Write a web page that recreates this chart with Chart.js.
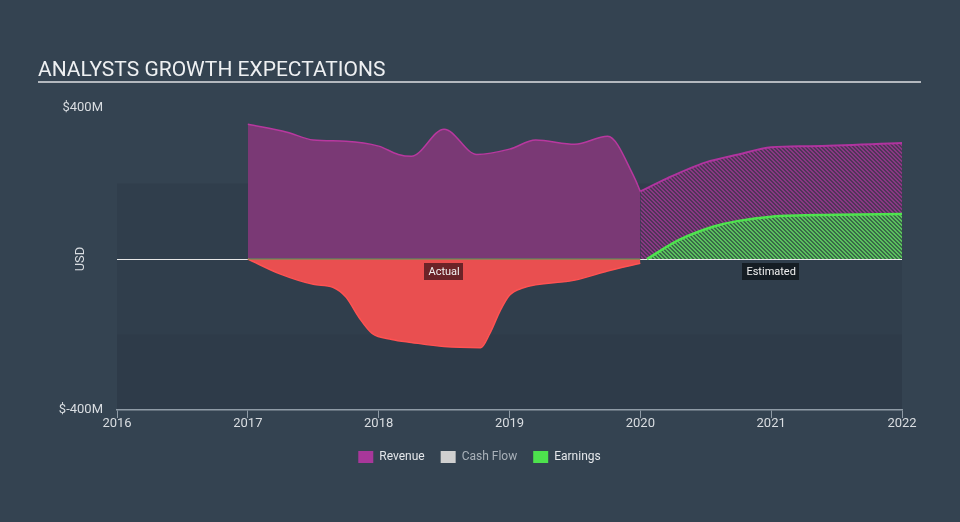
<!DOCTYPE html>
<html>
<head>
<meta charset="utf-8">
<script src="https://cdn.jsdelivr.net/npm/chart.js@4.4.1/dist/chart.umd.min.js"></script>
<style>
  html, body { margin: 0; padding: 0; background: #344351; }
  #wrap { width: 960px; height: 522px; position: relative; }
</style>
</head>
<body>
<div id="wrap"><canvas id="c"></canvas></div>
<script>
// ---- Data (years as decimal, values in $M) ----
const revenueActualYears = [2017.0, 2017.3, 2017.5, 2017.75, 2018.0, 2018.15, 2018.25, 2018.5, 2018.75, 2019.0, 2019.2, 2019.5, 2019.75, 2019.95, 2020.0];
const revenueActualValues = [357, 336, 315, 312, 299, 277, 272, 344, 277, 291, 315, 304, 325, 219, 179];

const revenueEstYears = [2020.0, 2020.2, 2020.5, 2020.75, 2021.0, 2021.3, 2022.0];
const revenueEstValues = [179, 213, 256, 277, 296, 299, 307];

const earningsActualYears = [2017.0, 2017.25, 2017.5, 2017.65, 2017.75, 2017.85, 2017.95, 2018.1, 2018.25, 2018.5, 2018.78, 2018.85, 2018.93, 2019.0, 2019.1, 2019.5, 2019.75, 2020.0];
const earningsActualValues = [0, -40, -67, -75, -101, -155, -197, -213, -221, -232, -235, -197, -136, -96, -77, -56, -32, -11];

const earningsEstYears = [2020.05, 2020.3, 2020.56, 2020.75, 2021.0, 2021.5, 2022.0];
const earningsEstValues = [0, 51, 86, 101, 112, 117, 119];

const zeroLineYears = [2017.0, 2020.0];
const zeroLineValues = [0, 0];

const legendNames = ['Revenue', 'Cash Flow', 'Earnings'];
const legendColors = ['#a8379a', '#d0d0d0', '#4de24d'];
const legendTextColors = ['#e4e7ea', '#a9b1b9', '#e4e7ea'];

const xMin = 2016, xMax = 2022;
const yMin = -400, yMax = 400;

function pts(xs, ys) { return xs.map((x, i) => ({ x: x, y: ys[i] })); }

function makePattern(bg, fg) {
  const c = document.createElement('canvas');
  c.width = 4; c.height = 4;
  const g = c.getContext('2d');
  g.fillStyle = bg; g.fillRect(0, 0, 4, 4);
  g.fillStyle = fg;
  for (let i = 0; i < 4; i++) {
    g.fillRect(i, i, 1, 1);
    g.fillRect((i + 1) % 4, i, 1, 1);
  }
  return g.createPattern(c, 'repeat');
}
const revPattern = makePattern('#4f3558', '#8a3784');
const earnPattern = makePattern('#3a6a48', '#5ac15d');

const bgPlugin = {
  id: 'bgPlugin',
  beforeDraw(chart) {
    const ctx = chart.ctx;
    const { x, y } = chart.scales;
    ctx.save();
    ctx.fillStyle = '#344351';
    ctx.fillRect(0, 0, chart.width, chart.height);
    const l = x.getPixelForValue(xMin), r = x.getPixelForValue(xMax);
    const t = y.getPixelForValue(200), m = y.getPixelForValue(-200), b = y.getPixelForValue(-400);
    ctx.fillStyle = '#303e4c';
    ctx.fillRect(l, t, r - l, b - t);
    ctx.fillStyle = '#2e3b49';
    ctx.fillRect(l, m, r - l, b - m);
    // title
    ctx.fillStyle = '#eef0f2';
    ctx.font = '21px Roboto';
    ctx.textBaseline = 'alphabetic';
    ctx.textAlign = 'left';
    ctx.fillText('ANALYSTS GROWTH EXPECTATIONS', 38, 76);
    ctx.fillStyle = '#b3b8be';
    ctx.fillRect(38, 81, 883, 2);
    ctx.restore();
  },
  afterDatasetsDraw(chart) {
    const ctx = chart.ctx;
    const { x, y } = chart.scales;
    const y0 = y.getPixelForValue(0);
    function tag(text, cx, bg) {
      ctx.save();
      ctx.font = '11px Roboto';
      const w = ctx.measureText(text).width + 8;
      ctx.fillStyle = bg;
      ctx.fillRect(Math.round(cx - w / 2), y0 + 4, Math.round(w), 17);
      ctx.fillStyle = '#f0f0f0';
      ctx.textAlign = 'center';
      ctx.textBaseline = 'middle';
      ctx.fillText(text, cx, y0 + 13);
      ctx.restore();
    }
    tag('Actual', x.getPixelForValue(2018.5), '#6b2328');
    tag('Estimated', x.getPixelForValue(2021.0), '#151d24');
  }
};

const chart = new Chart(document.getElementById('c'), {
  type: 'line',
  data: {
    datasets: [
      { label: 'Revenue', data: pts(revenueActualYears, revenueActualValues), borderColor: '#b8389f', borderWidth: 1.5, backgroundColor: '#7a3975', fill: 'origin', order: 5 },
      { label: 'Revenue est', data: pts(revenueEstYears, revenueEstValues), borderColor: '#b0349f', borderWidth: 2, backgroundColor: revPattern, fill: 'origin', order: 4 },
      { label: 'Earnings', data: pts(earningsActualYears, earningsActualValues), borderColor: '#ff5252', borderWidth: 1.5, backgroundColor: '#e94f50', fill: 'origin', order: 3 },
      { label: 'Earnings est', data: pts(earningsEstYears, earningsEstValues), borderColor: '#4ee34e', borderWidth: 2.5, backgroundColor: earnPattern, fill: 'origin', order: 2 },
      { label: 'zero', data: pts(zeroLineYears, zeroLineValues), borderColor: '#5a9f55', borderWidth: 1, fill: false, order: 1 }
    ]
  },
  options: {
    responsive: true,
    maintainAspectRatio: false,
    animation: false,
    devicePixelRatio: 1,
    layout: { padding: { top: 108, left: 57, right: 58, bottom: 49 } },
    elements: { point: { radius: 0, hoverRadius: 0 }, line: { cubicInterpolationMode: 'monotone' } },
    plugins: {
      tooltip: { enabled: false },
      legend: {
        position: 'bottom',
        align: 'center',
        labels: {
          boxWidth: 15, boxHeight: 12, padding: 16,
          font: { family: 'Roboto', size: 12 },
          color: '#e4e7ea',
          generateLabels: () => legendNames.map((n, i) => ({
            text: n, fillStyle: legendColors[i], strokeStyle: legendColors[i], lineWidth: 0,
            fontColor: legendTextColors[i], hidden: false, datasetIndex: i
          }))
        }
      }
    },
    scales: {
      x: {
        type: 'linear', min: xMin, max: xMax,
        afterFit: s => { s.height = 25; },
        ticks: { stepSize: 1, color: '#d9dde1', font: { family: 'Roboto', size: 13 }, padding: -2, maxRotation: 0,
          callback: v => String(v) },
        grid: { drawOnChartArea: false, drawTicks: true, tickLength: 8, color: '#8f9ba6', tickColor: '#8f9ba6' },
        border: { display: true, color: '#8f9ba6', width: 1.5 }
      },
      y: {
        type: 'linear', min: yMin, max: yMax,
        afterFit: s => { s.width = 60; },
        ticks: { stepSize: 400, color: '#d9dde1', font: { family: 'Roboto', size: 13 }, padding: 14,
          callback: v => v === 0 ? '' : '$' + v + 'M' },
        grid: { drawTicks: false, color: c => (c.tick && c.tick.value === 0) ? '#e8e8e8' : 'rgba(0,0,0,0)', lineWidth: 1 },
        border: { display: false },
        title: { display: true, text: 'USD', color: '#d9dde1', font: { family: 'Roboto', size: 13 }, padding: { top: 16, bottom: 0 } }
      }
    }
  },
  plugins: [bgPlugin]
});
</script>
</body>
</html>
